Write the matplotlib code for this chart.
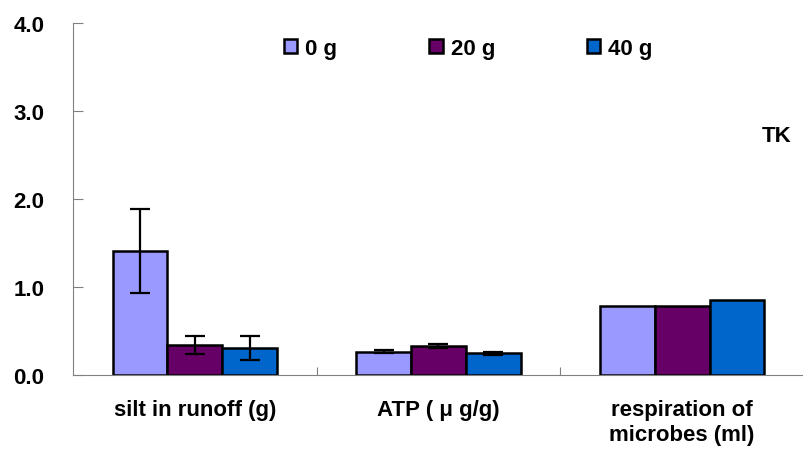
import matplotlib
matplotlib.use("Agg")
import matplotlib.pyplot as plt
import numpy as np

plt.rcParams['font.family'] = ['Liberation Sans', 'DejaVu Sans']

categories = ["silt in runoff (g)", "ATP ( μ g/g)", "respiration of\nmicrobes (ml)"]
series_names = ["0 g", "20 g", "40 g"]
colors = ["#9999FF", "#660066", "#0066CC"]

vals_0 = [1.41, 0.265, 0.78]
vals_20 = [0.34, 0.33, 0.78]
vals_40 = [0.31, 0.245, 0.85]
err_0 = [0.48, 0.02, 0.0]
err_20 = [0.10, 0.02, 0.0]
err_40 = [0.135, 0.015, 0.0]

values = [vals_0, vals_20, vals_40]
errors = [err_0, err_20, err_40]

fig = plt.figure(figsize=(8.04, 4.52), dpi=100)
ax = fig.add_axes([73 / 804, 1 - 376 / 452, 1 - 73 / 804, (376 - 24) / 452])

x = np.arange(len(categories))
width = 0.2245
for i, (vals, errs) in enumerate(zip(values, errors)):
    pos = x + (i - 1) * width
    ax.bar(pos, vals, width, color=colors[i], edgecolor='black', linewidth=1.8,
           label=series_names[i], zorder=2)
    show = [e > 0 for e in errs]
    ax.errorbar(pos[show], np.array(vals)[show], yerr=np.array(errs)[show], fmt='none',
                ecolor='black', elinewidth=1.6, capsize=7, capthick=1.6, zorder=3)

ax.set_xlim(-0.5, 2.5)
ax.set_ylim(0, 4.0)
ax.set_yticks([0, 1, 2, 3, 4])
ax.set_yticklabels(["0.0", "1.0", "2.0", "3.0", "4.0"], fontsize=16, fontweight='bold')
ax.tick_params(axis='y', direction='in', length=7, color='#808080', pad=43)
for lab in ax.get_yticklabels():
    lab.set_horizontalalignment('left')

ax.set_xticks([0.5, 1.5])
ax.set_xticklabels([])
ax.tick_params(axis='x', direction='in', length=6, color='#808080')
for xi, cat in zip(x, categories):
    ax.text(xi, -0.27, cat, ha='center', va='top', fontsize=16, fontweight='bold',
            linespacing=1.25, clip_on=False)

for side in ['top', 'right']:
    ax.spines[side].set_visible(False)
ax.spines['left'].set_color('#808080')
ax.spines['bottom'].set_color('#808080')

ax.text(2.45, 2.72, "TK", ha='right', va='center', fontsize=16, fontweight='bold')

ax.legend(loc='center left', bbox_to_anchor=(273 / 804, 1 - 49 / 452),
          bbox_transform=fig.transFigure, ncol=3, frameon=False,
          prop={'weight': 'bold', 'size': 16},
          handlelength=0.6, handleheight=0.6, handletextpad=0.35,
          columnspacing=4.15, borderpad=0)

fig.savefig("out.png", dpi=100)
